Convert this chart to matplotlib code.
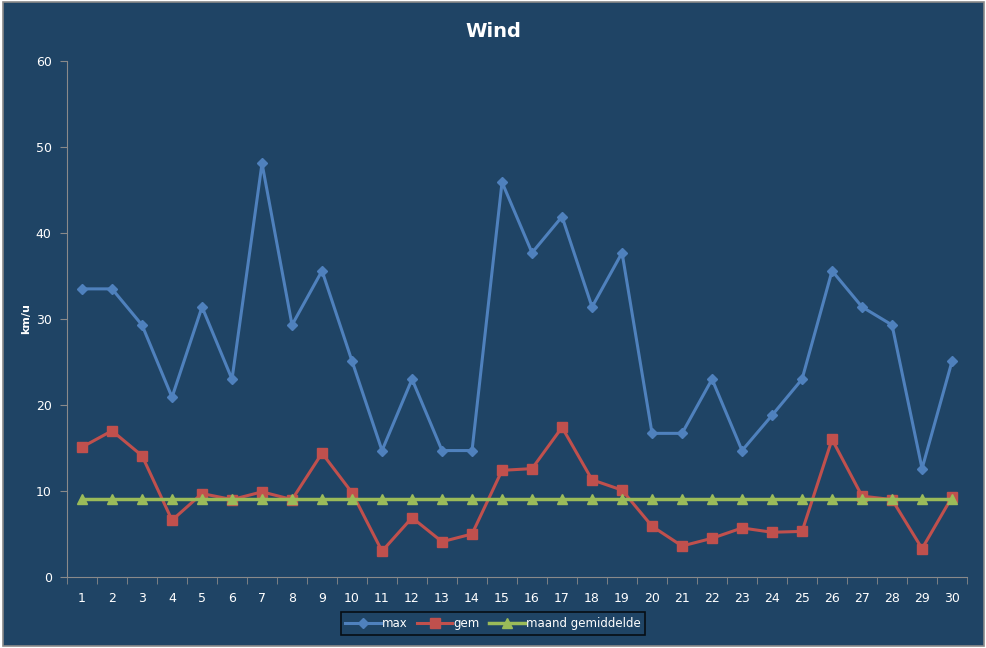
import matplotlib.pyplot as plt
from matplotlib.patches import Rectangle
import numpy as np

days = list(range(1, 31))
max_wind = [33.5, 33.5, 29.3, 20.9, 31.4, 23.0, 48.1, 29.3, 35.6, 25.1,
            14.7, 23.0, 14.7, 14.7, 45.9, 37.7, 41.9, 31.4, 37.7, 16.7,
            16.7, 23.0, 14.7, 18.8, 23.0, 35.6, 31.4, 29.3, 12.6, 25.1]
gem_wind = [15.1, 17.0, 14.1, 6.6, 9.7, 9.0, 9.9, 9.0, 14.4, 9.8,
            3.0, 6.9, 4.1, 5.0, 12.4, 12.6, 17.4, 11.3, 10.1, 5.9,
            3.6, 4.5, 5.7, 5.2, 5.3, 16.0, 9.4, 9.0, 3.3, 9.3]
maand_gem = [9.1] * 30

bg = '#1f4465'
fig = plt.figure(figsize=(9.87, 6.48), dpi=100, facecolor='white')
fig.patches.append(Rectangle((0.003, 0.003), 0.994, 0.994, transform=fig.transFigure,
                             facecolor=bg, edgecolor='#8a8a8a', linewidth=1.2, zorder=-1))
ax = fig.add_axes([0.0679, 0.1096, 0.9119, 0.7963])
ax.set_facecolor(bg)

ax.plot(days, max_wind, marker='D', markersize=5, linewidth=2.2, color='#4f81bd', label='max')
ax.plot(days, gem_wind, marker='s', markersize=7, linewidth=2.2, color='#c0504d', label='gem')
ax.plot(days, maand_gem, marker='^', markersize=7, linewidth=2.5, color='#9bbb59', label='maand gemiddelde')

ax.set_xlim(0.5, 30.5)
ax.set_ylim(0, 60)
ax.set_xticks(days)
ax.set_xticks(np.arange(0.5, 31, 1), minor=True)
ax.tick_params(axis='x', which='major', length=0, pad=11, labelsize=9, labelcolor='white')
ax.tick_params(axis='x', which='minor', length=5, color='#8a8a8a', direction='out')
ax.set_yticks(range(0, 61, 10))
ax.tick_params(axis='y', length=5, color='#8a8a8a', labelsize=9, labelcolor='white', pad=6)

for side in ['top', 'right']:
    ax.spines[side].set_visible(False)
for side in ['left', 'bottom']:
    ax.spines[side].set_color('#8a8a8a')

ax.set_ylabel('km/u', color='white', fontsize=8, fontweight='bold')
ax.yaxis.set_label_coords(-0.04, 0.5)
fig.text(0.5, 0.951, 'Wind', color='white', fontsize=14, fontweight='bold', ha='center', va='center')

leg = fig.legend(loc='center', bbox_to_anchor=(0.4995, 0.038), ncol=3, fontsize=8.5,
                 frameon=True, facecolor=bg, edgecolor='black', handlelength=3.0,
                 handletextpad=0.1, columnspacing=0.8, borderpad=0.4, fancybox=False)
leg.get_frame().set_linewidth(1.2)
for t in leg.get_texts():
    t.set_color('white')

fig.savefig('out.png', dpi=100, facecolor='white')
